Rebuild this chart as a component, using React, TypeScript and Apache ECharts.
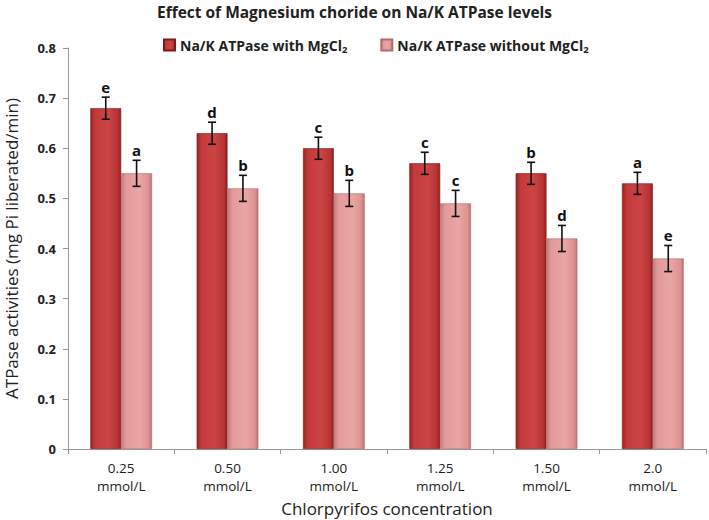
import React, { useEffect, useRef } from "react";
import * as echarts from "echarts";

const categories = ["0.25\nmmol/L", "0.50\nmmol/L", "1.00\nmmol/L", "1.25\nmmol/L", "1.50\nmmol/L", "2.0\nmmol/L"];
const withMg = [0.68, 0.63, 0.6, 0.57, 0.55, 0.53];
const withoutMg = [0.55, 0.52, 0.51, 0.49, 0.42, 0.38];
const withMgErr = [0.022, 0.022, 0.022, 0.022, 0.022, 0.022];
const withoutMgErr = [0.026, 0.026, 0.026, 0.026, 0.026, 0.026];
const withMgLetters = ["e", "d", "c", "c", "b", "a"];
const withoutMgLetters = ["a", "b", "b", "c", "d", "e"];
const yTicks = [0, 0.1, 0.2, 0.3, 0.4, 0.5, 0.6, 0.7, 0.8];

const FONT = "'Open Sans', 'Noto Sans', sans-serif";
const BAR_FRAC = 0.29;

function errorSeries(values: number[], errs: number[], letters: string[], side: number) {
  const data = values.map((v, i) => [i, v, errs[i]]);
  return {
    type: "custom",
    silent: true,
    z: 10,
    renderItem: (params: any, api: any) => {
      const idx = api.value(0);
      const val = api.value(1);
      const err = api.value(2);
      const band = api.size([1, 0])[0];
      const barW = band * BAR_FRAC;
      const center = api.coord([idx, val]);
      const x = center[0] + side * barW / 2;
      const top = api.coord([idx, val + err])[1];
      const bot = api.coord([idx, val - err])[1];
      const cap = 4;
      const st = { stroke: "#111", lineWidth: 1.6 };
      return {
        type: "group",
        children: [
          { type: "line", shape: { x1: x, y1: top, x2: x, y2: bot }, style: st },
          { type: "line", shape: { x1: x - cap, y1: top, x2: x + cap, y2: top }, style: st },
          { type: "line", shape: { x1: x - cap, y1: bot, x2: x + cap, y2: bot }, style: st },
          {
            type: "text",
            x: x,
            y: top - 3,
            style: {
              text: letters[idx],
              align: "center",
              verticalAlign: "bottom",
              fontFamily: FONT,
              fontWeight: "bold",
              fontSize: 15,
              fill: "#111",
            },
          },
        ],
      };
    },
    data,
  };
}

export default function App() {
  const ref = useRef<HTMLDivElement>(null);
  useEffect(() => {
    if (!ref.current) return;
    const chart = echarts.init(ref.current, null, { renderer: "svg" });
    const redGrad = new echarts.graphic.LinearGradient(0, 0, 1, 0, [
      { offset: 0, color: "#9a2424" },
      { offset: 0.15, color: "#c23a3a" },
      { offset: 0.6, color: "#cc4444" },
      { offset: 0.9, color: "#b53333" },
      { offset: 1, color: "#8e2020" },
    ]);
    const pinkGrad = new echarts.graphic.LinearGradient(0, 0, 1, 0, [
      { offset: 0, color: "#c77b7b" },
      { offset: 0.15, color: "#e39a9a" },
      { offset: 0.6, color: "#eaa5a5" },
      { offset: 0.9, color: "#dc9191" },
      { offset: 1, color: "#bf7474" },
    ]);
    chart.setOption({
      animation: false,
      backgroundColor: "#ffffff",
      title: {
        text: "Effect of Magnesium choride on Na/K ATPase levels",
        left: "center",
        top: -1,
        textStyle: { fontFamily: FONT, fontWeight: "bold", fontSize: 15.5, color: "#222" },
      },
      legend: {
        top: 33,
        left: 158,
        itemGap: 33,
        itemWidth: 11,
        itemHeight: 11,
        icon: "rect",
        data: ["with", "without"],
        formatter: (name: string) =>
          name === "with" ? "{t|Na/K ATPase with MgCl}{s|2}" : "{t|Na/K ATPase without MgCl}{s|2}",
        textStyle: {
          rich: {
            t: { fontFamily: FONT, fontWeight: "bold", fontSize: 14, color: "#222" },
            s: { fontFamily: FONT, fontWeight: "bold", fontSize: 9.5, color: "#222", padding: [8, 0, 0, 0] },
          },
        },
      },
      grid: { left: 68, right: 3, top: 48, bottom: 71, outerBoundsMode: "none", containLabel: false },
      xAxis: {
        type: "category",
        data: categories,
        name: "Chlorpyrifos concentration",
        nameLocation: "middle",
        nameGap: 46,
        nameTextStyle: { fontFamily: FONT, fontSize: 17, color: "#222" },
        axisLine: { lineStyle: { color: "#999" } },
        axisTick: { show: true, length: 5, lineStyle: { color: "#999" } },
        axisLabel: { fontFamily: FONT, fontSize: 13.5, color: "#222", margin: 10, lineHeight: 18 },
      },
      yAxis: {
        type: "value",
        min: 0,
        max: 0.8,
        interval: 0.1,
        name: "ATPase activities (mg Pi liberated/min)",
        nameLocation: "middle",
        nameGap: 48,
        nameTextStyle: { fontFamily: FONT, fontSize: 17, color: "#222" },
        axisLine: { show: true, lineStyle: { color: "#999" } },
        axisTick: { show: true, length: 5, lineStyle: { color: "#999" } },
        splitLine: { show: false },
        axisLabel: {
          fontFamily: FONT,
          fontSize: 13,
          fontWeight: "bold",
          color: "#222",
          margin: 12,
          formatter: (v: number) => {
            const t = yTicks.find((k) => Math.abs(k - v) < 1e-9);
            return t === undefined ? "" : t === 0 ? "0" : t.toFixed(1);
          },
        },
      },
      series: [
        {
          name: "with",
          type: "bar",
          data: withMg,
          barWidth: BAR_FRAC * 100 + "%",
          barGap: "0%",
          itemStyle: { color: redGrad, borderColor: "#7e1a1a", borderWidth: 0.6 },
        },
        {
          name: "without",
          type: "bar",
          data: withoutMg,
          barWidth: BAR_FRAC * 100 + "%",
          barGap: "0%",
          itemStyle: { color: pinkGrad, borderColor: "#b06a6a", borderWidth: 0.6 },
        },
        errorSeries(withMg, withMgErr, withMgLetters, -1),
        errorSeries(withoutMg, withoutMgErr, withoutMgLetters, 1),
      ],
    });
    return () => chart.dispose();
  }, []);
  return <div ref={ref} style={{ width: 709, height: 520, position: "absolute", left: 0, top: 0 }} />;
}
